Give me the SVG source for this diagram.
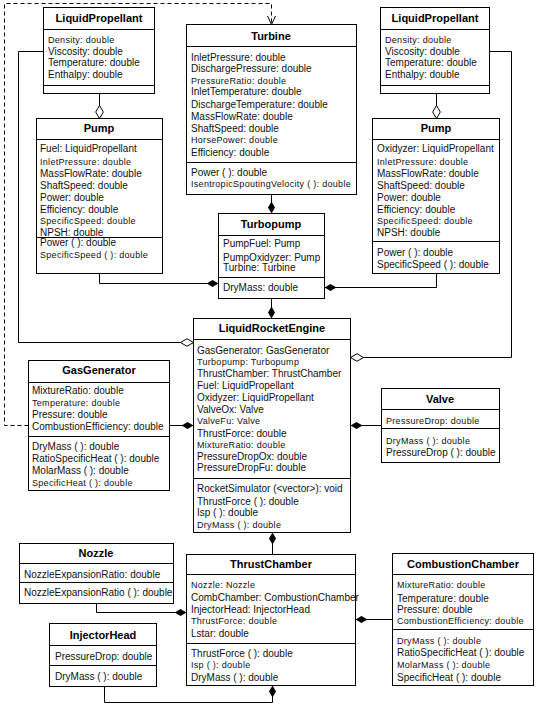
<svg xmlns="http://www.w3.org/2000/svg" width="538" height="706" viewBox="0 0 538 706">
<style>
.box{fill:#fff;stroke:#000;stroke-width:1}
.sep{stroke:#000;stroke-width:1;fill:none}
text{font-family:"Liberation Sans",Arial,sans-serif;font-size:10px;fill:#111}
.h{font-weight:bold;font-size:11px;text-anchor:middle;fill:#000}
.sm{font-size:9px;letter-spacing:0.3px}
.c{fill:none;stroke:#000;stroke-width:1}
.fd{marker-end:url(#fd)}
.od{marker-end:url(#od)}
.dash{stroke-dasharray:4,3;marker-end:url(#oa)}
</style>
<defs>
<marker id="fd" viewBox="0 0 12 8" refX="12" refY="4" markerWidth="12" markerHeight="8" markerUnits="userSpaceOnUse" orient="auto"><path d="M0,4 L6,0.5 L12,4 L6,7.5 Z" fill="#000"/></marker>
<marker id="od" viewBox="0 0 14 9" refX="13.5" refY="4.5" markerWidth="14" markerHeight="9" markerUnits="userSpaceOnUse" orient="auto"><path d="M0.5,4.5 L7,0.7 L13.5,4.5 L7,8.3 Z" fill="#fff" stroke="#000" stroke-width="1"/></marker>
<marker id="oa" viewBox="0 0 10 10" refX="9.5" refY="5" markerWidth="10" markerHeight="10" markerUnits="userSpaceOnUse" orient="auto"><path d="M1,1 L9.5,5 L1,9" fill="none" stroke="#000" stroke-width="1"/></marker>
</defs>
<rect width="538" height="706" fill="#fff"/>

<g id="LiquidPropellantFuel">
<rect class="box" x="43.5" y="7.5" width="111" height="86"/>
<path class="sep" d="M43.5,29.5H154.5M43.5,85.5H154.5"/>
<text class="h" x="99" y="22">LiquidPropellant</text>
<text class="sm" x="48" y="43">Density: double</text>
<text x="48" y="55">Viscosity: double</text>
<text x="48" y="66">Temperature: double</text>
<text x="48" y="77.5">Enthalpy: double</text>
</g>

<g id="LiquidPropellantOx">
<rect class="box" x="380.5" y="7.5" width="109" height="86"/>
<path class="sep" d="M380.5,29.5H489.5M380.5,85.5H489.5"/>
<text class="h" x="435" y="22">LiquidPropellant</text>
<text class="sm" x="385" y="43">Density: double</text>
<text x="385" y="55">Viscosity: double</text>
<text x="385" y="66">Temperature: double</text>
<text x="385" y="77.5">Enthalpy: double</text>
</g>

<g id="Turbine">
<rect class="box" x="186.5" y="24.5" width="170" height="170"/>
<path class="sep" d="M186.5,46.5H356.5M186.5,162.5H356.5"/>
<text class="h" x="271" y="40">Turbine</text>
<text x="191" y="60.5">InletPressure: double</text>
<text x="191" y="71.5">DischargePressure: double</text>
<text class="sm" x="191" y="83.5">PressureRatio: double</text>
<text x="191" y="94.5">InletTemperature: double</text>
<text x="191" y="107.5">DischargeTemperature: double</text>
<text x="191" y="119.5">MassFlowRate: double</text>
<text x="191" y="131.5">ShaftSpeed: double</text>
<text class="sm" x="191" y="142.5">HorsePower: double</text>
<text x="191" y="155.5">Efficiency: double</text>
<text x="191" y="175.5">Power ( ): double</text>
<text class="sm" x="191" y="186.5">IsentropicSpoutingVelocity ( ): double</text>
</g>

<g id="PumpFuel">
<rect class="box" x="36.5" y="118.5" width="126" height="155"/>
<path class="sep" d="M36.5,139.5H162.5M36.5,237.5H162.5"/>
<text class="h" x="99" y="132">Pump</text>
<text x="40" y="151.5">Fuel: LiquidPropellant</text>
<text class="sm" x="40" y="164.5">InletPressure: double</text>
<text x="40" y="176.5">MassFlowRate: double</text>
<text x="40" y="188.5">ShaftSpeed: double</text>
<text x="40" y="200.5">Power: double</text>
<text x="40" y="212.5">Efficiency: double</text>
<text class="sm" x="40" y="223.5">SpecificSpeed: double</text>
<text x="40" y="235.5">NPSH: double</text>
<text x="40" y="246">Power ( ): double</text>
<text class="sm" x="40" y="258">SpecificSpeed ( ): double</text>
</g>

<g id="PumpOx">
<rect class="box" x="372.5" y="118.5" width="127" height="155"/>
<path class="sep" d="M372.5,139.5H499.5M372.5,241.5H499.5"/>
<text class="h" x="436" y="132">Pump</text>
<text x="377" y="151.5">Oxidyzer: LiquidPropellant</text>
<text class="sm" x="377" y="164.5">InletPressure: double</text>
<text x="377" y="176.5">MassFlowRate: double</text>
<text x="377" y="188.5">ShaftSpeed: double</text>
<text x="377" y="200.5">Power: double</text>
<text x="377" y="212.5">Efficiency: double</text>
<text class="sm" x="377" y="223.5">SpecificSpeed: double</text>
<text x="377" y="235.5">NPSH: double</text>
<text x="377" y="255.5">Power ( ): double</text>
<text x="377" y="267.5">SpecificSpeed ( ): double</text>
</g>

<g id="Turbopump">
<rect class="box" x="218.5" y="213.5" width="106" height="85"/>
<path class="sep" d="M218.5,235.5H324.5M218.5,277.5H324.5"/>
<text class="h" x="271" y="228">Turbopump</text>
<text x="223" y="246.5">PumpFuel: Pump</text>
<text x="223" y="260.5">PumpOxidyzer: Pump</text>
<text x="223" y="270.5">Turbine: Turbine</text>
<text x="223" y="290.5">DryMass: double</text>
</g>

<g id="LiquidRocketEngine">
<rect class="box" x="193.5" y="318.5" width="157" height="214"/>
<path class="sep" d="M193.5,339.5H350.5M193.5,478.5H350.5"/>
<text class="h" x="272" y="332">LiquidRocketEngine</text>
<text x="197" y="353.5">GasGenerator: GasGenerator</text>
<text class="sm" x="197" y="364.5">Turbopump: Turbopump</text>
<text x="197" y="376.5">ThrustChamber: ThrustChamber</text>
<text x="197" y="388.5">Fuel: LiquidPropellant</text>
<text x="197" y="400.5">Oxidyzer: LiquidPropellant</text>
<text x="197" y="412.5">ValveOx: Valve</text>
<text class="sm" x="197" y="423.5">ValveFu: Valve</text>
<text x="197" y="436.5">ThrustForce: double</text>
<text class="sm" x="197" y="447.5">MixtureRatio: double</text>
<text x="197" y="459.5">PressureDropOx: double</text>
<text x="197" y="470.5">PressureDropFu: double</text>
<text x="197" y="491.5">RocketSimulator (&lt;vector&gt;): void</text>
<text x="197" y="504.5">ThrustForce ( ): double</text>
<text x="197" y="515.5">Isp ( ): double</text>
<text class="sm" x="197" y="527.5">DryMass ( ): double</text>
</g>

<g id="GasGenerator">
<rect class="box" x="28.5" y="360.5" width="141" height="130"/>
<path class="sep" d="M28.5,382.5H169.5M28.5,436.5H169.5"/>
<text class="h" x="99" y="374">GasGenerator</text>
<text x="32" y="393.5">MixtureRatio: double</text>
<text class="sm" x="32" y="405.5">Temperature: double</text>
<text x="32" y="417.5">Pressure: double</text>
<text x="32" y="429.5">CombustionEfficiency: double</text>
<text x="32" y="449.5">DryMass ( ): double</text>
<text x="32" y="461.5">RatioSpecificHeat ( ): double</text>
<text x="32" y="473.5">MolarMass ( ): double</text>
<text class="sm" x="32" y="485.5">SpecificHeat ( ): double</text>
</g>

<g id="Valve">
<rect class="box" x="381.5" y="388.5" width="118" height="74"/>
<path class="sep" d="M381.5,409.5H499.5M381.5,428.5H499.5"/>
<text class="h" x="440" y="403">Valve</text>
<text class="sm" x="386" y="423.5">PressureDrop: double</text>
<text class="sm" x="386" y="443.5">DryMass ( ): double</text>
<text x="386" y="455.5">PressureDrop ( ): double</text>
</g>

<g id="Nozzle">
<rect class="box" x="19.5" y="543.5" width="154" height="60"/>
<path class="sep" d="M19.5,563.5H173.5M19.5,582.5H173.5"/>
<text class="h" x="96" y="557">Nozzle</text>
<text x="24" y="577.5">NozzleExpansionRatio: double</text>
<text x="24" y="595.5">NozzleExpansionRatio ( ): double</text>
</g>

<g id="ThrustChamber">
<rect class="box" x="186.5" y="554.5" width="169" height="131"/>
<path class="sep" d="M186.5,574.5H355.5M186.5,643.5H355.5"/>
<text class="h" x="271" y="568">ThrustChamber</text>
<text class="sm" x="191" y="587.5">Nozzle: Nozzle</text>
<text x="191" y="600.5">CombChamber: CombustionChamber</text>
<text x="191" y="612.5">InjectorHead: InjectorHead</text>
<text class="sm" x="191" y="623.5">ThrustForce: double</text>
<text x="191" y="636.5">Lstar: double</text>
<text x="191" y="656.5">ThrustForce ( ): double</text>
<text class="sm" x="191" y="667.5">Isp ( ): double</text>
<text x="191" y="680.5">DryMass ( ): double</text>
</g>

<g id="InjectorHead">
<rect class="box" x="49.5" y="623.5" width="107" height="63"/>
<path class="sep" d="M49.5,645.5H156.5M49.5,665.5H156.5"/>
<text class="h" x="103" y="639">InjectorHead</text>
<text x="55" y="659.5">PressureDrop: double</text>
<text x="55" y="679.5">DryMass ( ): double</text>
</g>

<g id="CombustionChamber">
<rect class="box" x="392.5" y="553.5" width="141" height="132"/>
<path class="sep" d="M392.5,574.5H533.5M392.5,629.5H533.5"/>
<text class="h" x="463" y="568">CombustionChamber</text>
<text class="sm" x="397" y="587.5">MixtureRatio: double</text>
<text x="397" y="601.5">Temperature: double</text>
<text x="397" y="612.5">Pressure: double</text>
<text class="sm" x="397" y="623.5">CombustionEfficiency: double</text>
<text class="sm" x="397" y="643.5">DryMass ( ): double</text>
<text x="397" y="655.5">RatioSpecificHeat ( ): double</text>
<text class="sm" x="397" y="667.5">MolarMass ( ): double</text>
<text x="397" y="680.5">SpecificHeat ( ): double</text>
</g>

<g id="connectors">
<path class="c od" d="M99.5,93.5V118.5"/>
<path class="c od" d="M436.5,93.5V118.5"/>
<path class="c fd" d="M99.5,273.5V283.5H218.5"/>
<path class="c fd" d="M436.5,273.5V287.5H324.5"/>
<path class="c fd" d="M271.5,194.5V213.5"/>
<path class="c fd" d="M271.5,298.5V318.5"/>
<path class="c od" d="M43.5,51.5H18.5V342.5H193.5"/>
<path class="c od" d="M489.5,51.5H511.5V357.5H350.5"/>
<path class="c fd" d="M169.5,425.5H193.5"/>
<path class="c fd" d="M381.5,425.5H350.5"/>
<path class="c dash" d="M28.5,425.5H4.5V3.5H271.5V24.5"/>
<path class="c fd" d="M272.5,554.5V532.5"/>
<path class="c fd" d="M96.5,603.5V612.5H186.5"/>
<path class="c fd" d="M104.5,686.5V702.5H272.5V685.5"/>
<path class="c fd" d="M392.5,619.5H355.5"/>
</g>
</svg>
